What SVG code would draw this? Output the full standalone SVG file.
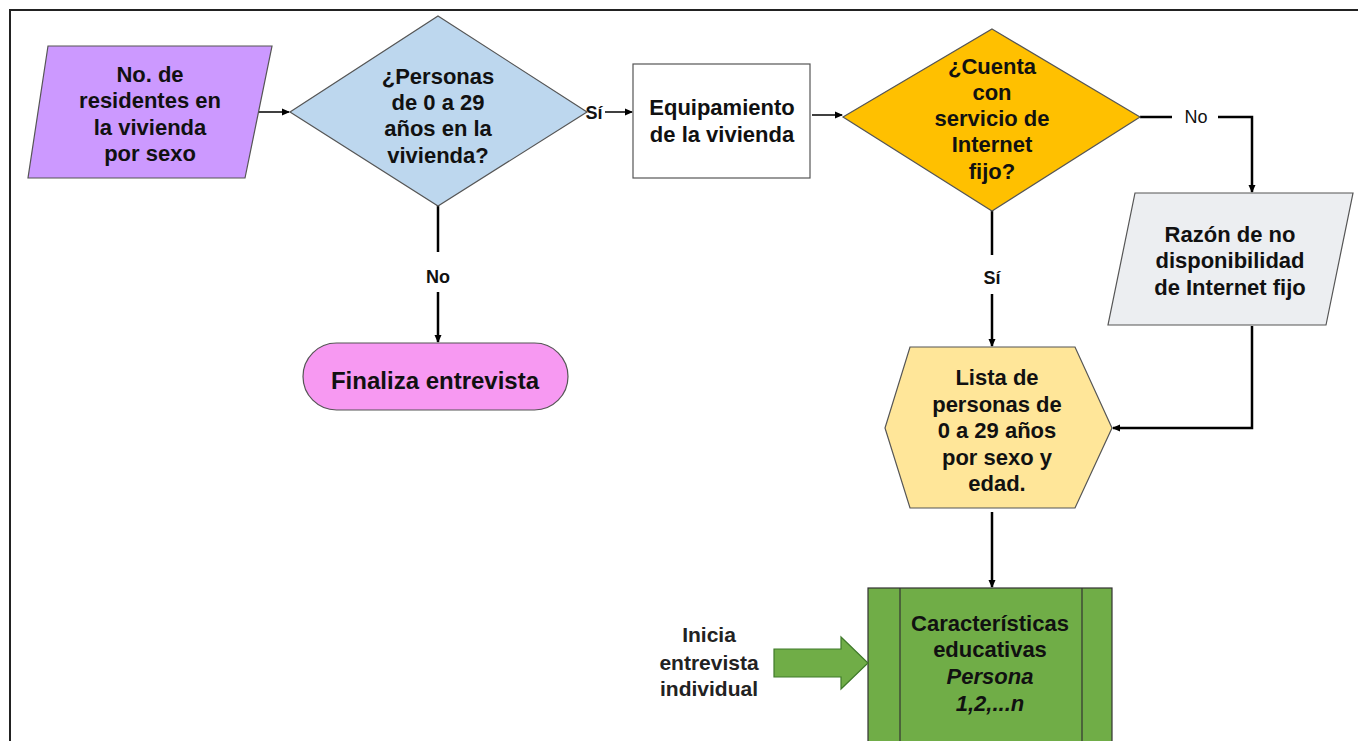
<svg xmlns="http://www.w3.org/2000/svg" width="1358" height="741" viewBox="0 0 1358 741">
<defs>
<marker id="ah" markerWidth="8" markerHeight="8" refX="7" refY="4" orient="auto" markerUnits="userSpaceOnUse">
<path d="M0,0.5 L8,4 L0,7.5 Z" fill="#000"/>
</marker>
<style>
text{font-family:"Liberation Sans",Arial,sans-serif;font-weight:bold;font-size:22px;fill:#111;text-anchor:middle}
.shape{stroke:#555;stroke-width:1.2}
.conn{fill:none;stroke:#000;stroke-width:2.5}
.thin{fill:none;stroke:#000;stroke-width:1.5}
.lbl{font-size:18px}
.plain{font-size:21px;fill:#222}
</style>
</defs>
<rect x="0" y="0" width="1358" height="741" fill="#fff"/>
<rect x="10" y="10" width="1370" height="760" fill="none" stroke="#222" stroke-width="2"/>

<g id="connectors">
<line class="thin" x1="255" y1="112" x2="289" y2="112" marker-end="url(#ah)"/>
<line class="thin" x1="605" y1="112" x2="632" y2="112" marker-end="url(#ah)"/>
<line class="thin" x1="812" y1="115" x2="842" y2="115" marker-end="url(#ah)"/>
<line class="conn" x1="438" y1="205" x2="438" y2="252"/>
<line class="conn" x1="438" y1="292" x2="438" y2="342" marker-end="url(#ah)"/>
<line class="conn" x1="992" y1="210" x2="992" y2="255"/>
<line class="conn" x1="992" y1="294" x2="992" y2="346" marker-end="url(#ah)"/>
<polyline class="conn" points="1140,117 1172,117"/>
<polyline class="conn" points="1218,117 1252,117 1252,192" marker-end="url(#ah)"/>
<polyline class="conn" points="1252,326 1252,428 1113,428" marker-end="url(#ah)"/>
<line class="conn" x1="992" y1="512" x2="992" y2="587" marker-end="url(#ah)"/>
<text class="lbl" x="594" y="119">Sí</text>
<text class="lbl" x="438" y="283">No</text>
<text class="lbl" x="992" y="284">Sí</text>
<text class="lbl" x="1196" y="123" style="font-weight:normal">No</text>
</g>

<g id="n-residentes">
<polygon class="shape" points="48,46 272,46 245,178 28,178" fill="#cc99ff"/>
<text x="150" y="82">No. de</text>
<text x="150" y="108">residentes en</text>
<text x="150" y="135">la vivienda</text>
<text x="150" y="161">por sexo</text>
</g>

<g id="n-personas">
<polygon class="shape" points="438,16 587,112 438,206 290,112" fill="#bdd7ee"/>
<text x="438" y="84">¿Personas</text>
<text x="438" y="110">de 0 a 29</text>
<text x="438" y="136">años en la</text>
<text x="438" y="163">vivienda?</text>
</g>

<g id="n-equipamiento">
<rect class="shape" x="633" y="64" width="177" height="114" fill="#fff"/>
<text x="722" y="115">Equipamiento</text>
<text x="722" y="142">de la vivienda</text>
</g>

<g id="n-internet">
<polygon class="shape" points="992,29 1140,117 992,211 843,117" fill="#ffc000"/>
<text x="992" y="74">¿Cuenta</text>
<text x="992" y="100">con</text>
<text x="992" y="126">servicio de</text>
<text x="992" y="152">Internet</text>
<text x="992" y="179">fijo?</text>
</g>

<g id="n-razon">
<polygon class="shape" points="1135,193 1353,193 1326,325 1108,325" fill="#eceef1"/>
<text x="1230" y="242">Razón de no</text>
<text x="1230" y="268">disponibilidad</text>
<text x="1230" y="295">de Internet fijo</text>
</g>

<g id="n-finaliza">
<rect class="shape" x="303" y="343" width="265" height="67" rx="33.5" fill="#f799f2"/>
<text x="435" y="389" style="font-size:24px">Finaliza entrevista</text>
</g>

<g id="n-lista">
<polygon class="shape" points="910,347 1075,347 1112,428 1075,508 910,508 885,428" fill="#ffe699"/>
<text x="997" y="385">Lista de</text>
<text x="997" y="412">personas de</text>
<text x="997" y="438">0 a 29 años</text>
<text x="997" y="465">por sexo y</text>
<text x="997" y="491">edad.</text>
</g>

<g id="n-caracteristicas">
<rect x="868" y="588" width="244" height="170" fill="#70ad47" stroke="#333" stroke-width="1.2"/>
<line x1="900" y1="588" x2="900" y2="741" stroke="#333" stroke-width="1.2"/>
<line x1="1082" y1="588" x2="1082" y2="741" stroke="#333" stroke-width="1.2"/>
<text x="990" y="631">Características</text>
<text x="990" y="657">educativas</text>
<text x="990" y="684" font-style="italic">Persona</text>
<text x="990" y="711" font-style="italic">1,2,...n</text>
</g>

<g id="n-inicia">
<polygon points="774,649 841,649 841,637 868,663 841,689 841,677 774,677" fill="#70ad47" stroke="#3f7a2a" stroke-width="1.2"/>
<text class="plain" x="709" y="642">Inicia</text>
<text class="plain" x="709" y="670">entrevista</text>
<text class="plain" x="709" y="696">individual</text>
</g>
</svg>
